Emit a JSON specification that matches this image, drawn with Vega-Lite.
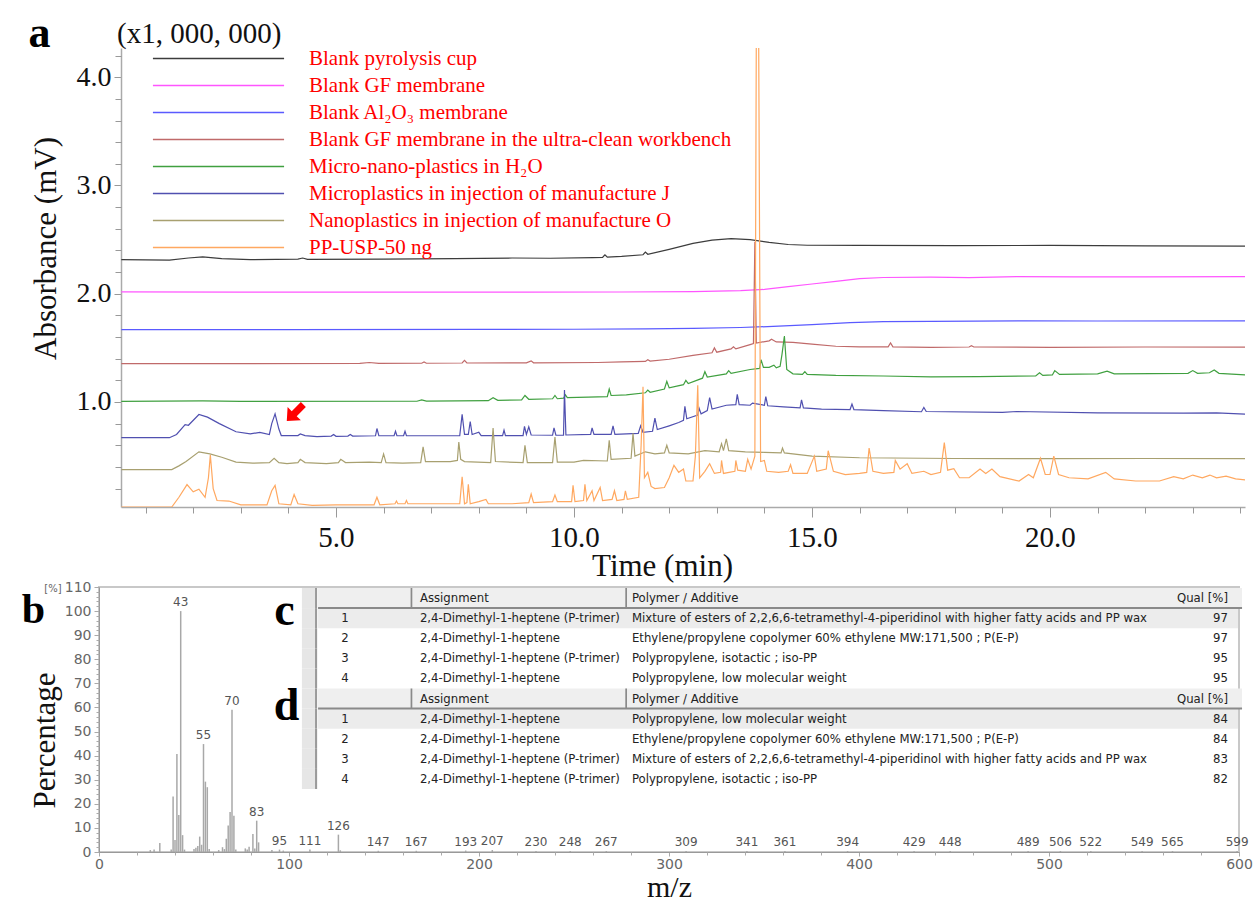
{
"$schema": "https://vega.github.io/schema/vega-lite/v6.json",
"padding": {"left": 20, "top": 12, "right": 5, "bottom": 5},
"background": "white",
"bounds": "flush",
"spacing": 80,
"config": {"view": {"stroke": null}, "font": "Liberation Serif"},
"datasets": {
"series": [
{"id": 1, "name": "Blank pyrolysis cup"},
{"id": 2, "name": "Blank GF membrane"},
{"id": 3, "name": "Blank Al₂O₃ membrane"},
{"id": 4, "name": "Blank GF membrane in the ultra-clean workbench"},
{"id": 5, "name": "Micro-nano-plastics in H₂O"},
{"id": 6, "name": "Microplastics in injection of manufacture J"},
{"id": 7, "name": "Nanoplastics in injection of manufacture O"},
{"id": 8, "name": "PP-USP-50 ng"}
],
"traces": [
{"id":1,"t":0.49,"v":2.315},{"id":1,"t":1.5,"v":2.31},{"id":1,"t":1.9,"v":2.33},{"id":1,"t":2.2,"v":2.34},{"id":1,"t":2.6,"v":2.325},{"id":1,"t":3.2,"v":2.315},{"id":1,"t":4.2,"v":2.32},{"id":1,"t":4.3,"v":2.33},{"id":1,"t":4.4,"v":2.318},{"id":1,"t":6,"v":2.32},{"id":1,"t":7.5,"v":2.325},{"id":1,"t":8.7,"v":2.33},{"id":1,"t":9.5,"v":2.328},{"id":1,"t":10.4,"v":2.333},{"id":1,"t":10.6,"v":2.335},{"id":1,"t":10.65,"v":2.36},{"id":1,"t":10.7,"v":2.338},{"id":1,"t":11.0,"v":2.345},{"id":1,"t":11.45,"v":2.36},{"id":1,"t":11.5,"v":2.385},{"id":1,"t":11.55,"v":2.365},{"id":1,"t":12.0,"v":2.41},{"id":1,"t":12.5,"v":2.465},{"id":1,"t":12.9,"v":2.495},{"id":1,"t":13.3,"v":2.51},{"id":1,"t":13.7,"v":2.5},{"id":1,"t":14.1,"v":2.475},{"id":1,"t":14.5,"v":2.455},{"id":1,"t":14.9,"v":2.448},{"id":1,"t":16,"v":2.447},{"id":1,"t":18,"v":2.445},{"id":1,"t":20,"v":2.446},{"id":1,"t":22,"v":2.443},{"id":1,"t":24.1,"v":2.44},
{"id":2,"t":0.49,"v":2.017},{"id":2,"t":3,"v":2.015},{"id":2,"t":6,"v":2.014},{"id":2,"t":9,"v":2.015},{"id":2,"t":11,"v":2.016},{"id":2,"t":12.5,"v":2.02},{"id":2,"t":13.5,"v":2.028},{"id":2,"t":14.0,"v":2.04},{"id":2,"t":14.5,"v":2.065},{"id":2,"t":15.0,"v":2.09},{"id":2,"t":15.5,"v":2.115},{"id":2,"t":16.0,"v":2.14},{"id":2,"t":16.5,"v":2.15},{"id":2,"t":17.5,"v":2.153},{"id":2,"t":18.3,"v":2.148},{"id":2,"t":19.3,"v":2.158},{"id":2,"t":20.5,"v":2.156},{"id":2,"t":22,"v":2.155},{"id":2,"t":24.1,"v":2.158},
{"id":3,"t":0.49,"v":1.668},{"id":3,"t":4,"v":1.668},{"id":3,"t":8,"v":1.67},{"id":3,"t":10,"v":1.672},{"id":3,"t":11.5,"v":1.675},{"id":3,"t":12.5,"v":1.68},{"id":3,"t":13.5,"v":1.688},{"id":3,"t":14.3,"v":1.7},{"id":3,"t":15.0,"v":1.715},{"id":3,"t":15.8,"v":1.733},{"id":3,"t":16.5,"v":1.742},{"id":3,"t":17.5,"v":1.745},{"id":3,"t":19.5,"v":1.75},{"id":3,"t":21,"v":1.748},{"id":3,"t":24.1,"v":1.75},
{"id":4,"t":0.49,"v":1.354},{"id":4,"t":5.5,"v":1.356},{"id":4,"t":5.7,"v":1.365},{"id":4,"t":5.9,"v":1.356},{"id":4,"t":6.8,"v":1.358},{"id":4,"t":6.85,"v":1.37},{"id":4,"t":6.9,"v":1.358},{"id":4,"t":7.65,"v":1.36},{"id":4,"t":7.7,"v":1.385},{"id":4,"t":7.75,"v":1.36},{"id":4,"t":9.0,"v":1.362},{"id":4,"t":9.1,"v":1.38},{"id":4,"t":9.15,"v":1.362},{"id":4,"t":10.5,"v":1.365},{"id":4,"t":11.0,"v":1.37},{"id":4,"t":11.5,"v":1.375},{"id":4,"t":11.55,"v":1.39},{"id":4,"t":11.6,"v":1.378},{"id":4,"t":12.0,"v":1.395},{"id":4,"t":12.5,"v":1.43},{"id":4,"t":12.9,"v":1.455},{"id":4,"t":12.95,"v":1.5},{"id":4,"t":13.0,"v":1.46},{"id":4,"t":13.3,"v":1.49},{"id":4,"t":13.35,"v":1.51},{"id":4,"t":13.4,"v":1.49},{"id":4,"t":13.7,"v":1.53},{"id":4,"t":13.77,"v":1.54},{"id":4,"t":13.8,"v":2.48},{"id":4,"t":13.83,"v":1.545},{"id":4,"t":14.1,"v":1.565},{"id":4,"t":14.15,"v":1.58},{"id":4,"t":14.25,"v":1.555},{"id":4,"t":14.6,"v":1.55},{"id":4,"t":15.0,"v":1.535},{"id":4,"t":15.5,"v":1.515},{"id":4,"t":16.0,"v":1.51},{"id":4,"t":16.6,"v":1.51},{"id":4,"t":16.65,"v":1.545},{"id":4,"t":16.7,"v":1.51},{"id":4,"t":17.5,"v":1.505},{"id":4,"t":18.3,"v":1.508},{"id":4,"t":18.35,"v":1.52},{"id":4,"t":18.4,"v":1.508},{"id":4,"t":20,"v":1.505},{"id":4,"t":22,"v":1.508},{"id":4,"t":24.1,"v":1.507},
{"id":5,"t":0.49,"v":1.005},{"id":5,"t":2.2,"v":1.01},{"id":5,"t":3,"v":1.005},{"id":5,"t":6.7,"v":1.007},{"id":5,"t":6.8,"v":1.02},{"id":5,"t":6.9,"v":1.008},{"id":5,"t":8.2,"v":1.012},{"id":5,"t":8.3,"v":1.04},{"id":5,"t":8.4,"v":1.015},{"id":5,"t":8.9,"v":1.02},{"id":5,"t":8.97,"v":1.06},{"id":5,"t":9.05,"v":1.025},{"id":5,"t":9.55,"v":1.03},{"id":5,"t":9.6,"v":1.06},{"id":5,"t":9.65,"v":1.03},{"id":5,"t":9.78,"v":1.035},{"id":5,"t":9.82,"v":1.065},{"id":5,"t":9.86,"v":1.04},{"id":5,"t":10.3,"v":1.045},{"id":5,"t":10.7,"v":1.05},{"id":5,"t":10.74,"v":1.12},{"id":5,"t":10.78,"v":1.06},{"id":5,"t":11.1,"v":1.065},{"id":5,"t":11.5,"v":1.085},{"id":5,"t":11.55,"v":1.11},{"id":5,"t":11.6,"v":1.09},{"id":5,"t":11.9,"v":1.12},{"id":5,"t":11.95,"v":1.19},{"id":5,"t":12.0,"v":1.13},{"id":5,"t":12.3,"v":1.16},{"id":5,"t":12.35,"v":1.2},{"id":5,"t":12.4,"v":1.17},{"id":5,"t":12.7,"v":1.22},{"id":5,"t":12.75,"v":1.28},{"id":5,"t":12.8,"v":1.23},{"id":5,"t":13.2,"v":1.26},{"id":5,"t":13.25,"v":1.29},{"id":5,"t":13.3,"v":1.265},{"id":5,"t":13.7,"v":1.3},{"id":5,"t":13.9,"v":1.31},{"id":5,"t":13.93,"v":1.39},{"id":5,"t":13.98,"v":1.32},{"id":5,"t":14.1,"v":1.32},{"id":5,"t":14.2,"v":1.34},{"id":5,"t":14.25,"v":1.315},{"id":5,"t":14.33,"v":1.33},{"id":5,"t":14.37,"v":1.44},{"id":5,"t":14.42,"v":1.61},{"id":5,"t":14.47,"v":1.3},{"id":5,"t":14.6,"v":1.26},{"id":5,"t":14.8,"v":1.255},{"id":5,"t":14.85,"v":1.28},{"id":5,"t":14.9,"v":1.255},{"id":5,"t":15.5,"v":1.245},{"id":5,"t":16.5,"v":1.24},{"id":5,"t":17.5,"v":1.232},{"id":5,"t":18.5,"v":1.235},{"id":5,"t":19.7,"v":1.24},{"id":5,"t":19.78,"v":1.27},{"id":5,"t":19.85,"v":1.245},{"id":5,"t":20.05,"v":1.25},{"id":5,"t":20.1,"v":1.29},{"id":5,"t":20.2,"v":1.255},{"id":5,"t":21.0,"v":1.26},{"id":5,"t":21.2,"v":1.285},{"id":5,"t":21.35,"v":1.26},{"id":5,"t":22.9,"v":1.265},{"id":5,"t":23.0,"v":1.29},{"id":5,"t":23.1,"v":1.265},{"id":5,"t":23.35,"v":1.27},{"id":5,"t":23.45,"v":1.295},{"id":5,"t":23.55,"v":1.265},{"id":5,"t":24.1,"v":1.25},
{"id":6,"t":0.49,"v":0.671},{"id":6,"t":1.5,"v":0.67},{"id":6,"t":1.65,"v":0.7},{"id":6,"t":1.83,"v":0.79},{"id":6,"t":1.9,"v":0.785},{"id":6,"t":2.12,"v":0.884},{"id":6,"t":2.3,"v":0.86},{"id":6,"t":2.55,"v":0.8},{"id":6,"t":2.9,"v":0.725},{"id":6,"t":3.2,"v":0.705},{"id":6,"t":3.4,"v":0.72},{"id":6,"t":3.6,"v":0.7},{"id":6,"t":3.65,"v":0.8},{"id":6,"t":3.72,"v":0.89},{"id":6,"t":3.8,"v":0.75},{"id":6,"t":3.85,"v":0.69},{"id":6,"t":4.2,"v":0.69},{"id":6,"t":4.25,"v":0.705},{"id":6,"t":4.35,"v":0.69},{"id":6,"t":4.6,"v":0.68},{"id":6,"t":4.9,"v":0.685},{"id":6,"t":4.95,"v":0.7},{"id":6,"t":5.0,"v":0.683},{"id":6,"t":5.25,"v":0.685},{"id":6,"t":5.3,"v":0.7},{"id":6,"t":5.35,"v":0.685},{"id":6,"t":5.83,"v":0.688},{"id":6,"t":5.86,"v":0.755},{"id":6,"t":5.9,"v":0.688},{"id":6,"t":6.22,"v":0.688},{"id":6,"t":6.25,"v":0.73},{"id":6,"t":6.28,"v":0.688},{"id":6,"t":6.42,"v":0.688},{"id":6,"t":6.45,"v":0.73},{"id":6,"t":6.48,"v":0.688},{"id":6,"t":7.6,"v":0.69},{"id":6,"t":7.65,"v":0.886},{"id":6,"t":7.7,"v":0.7},{"id":6,"t":7.78,"v":0.7},{"id":6,"t":7.82,"v":0.82},{"id":6,"t":7.86,"v":0.7},{"id":6,"t":8.0,"v":0.72},{"id":6,"t":8.05,"v":0.69},{"id":6,"t":8.5,"v":0.69},{"id":6,"t":8.53,"v":0.74},{"id":6,"t":8.56,"v":0.69},{"id":6,"t":8.93,"v":0.69},{"id":6,"t":8.96,"v":0.775},{"id":6,"t":9.0,"v":0.7},{"id":6,"t":9.05,"v":0.77},{"id":6,"t":9.1,"v":0.695},{"id":6,"t":9.55,"v":0.693},{"id":6,"t":9.58,"v":0.76},{"id":6,"t":9.62,"v":0.693},{"id":6,"t":9.78,"v":0.693},{"id":6,"t":9.8,"v":1.11},{"id":6,"t":9.83,"v":0.695},{"id":6,"t":10.35,"v":0.7},{"id":6,"t":10.38,"v":0.76},{"id":6,"t":10.42,"v":0.7},{"id":6,"t":10.78,"v":0.7},{"id":6,"t":10.82,"v":0.78},{"id":6,"t":10.86,"v":0.7},{"id":6,"t":11.35,"v":0.71},{"id":6,"t":11.4,"v":0.78},{"id":6,"t":11.45,"v":0.72},{"id":6,"t":11.65,"v":0.73},{"id":6,"t":11.7,"v":0.85},{"id":6,"t":11.75,"v":0.745},{"id":6,"t":12.0,"v":0.78},{"id":6,"t":12.2,"v":0.81},{"id":6,"t":12.3,"v":0.83},{"id":6,"t":12.33,"v":0.96},{"id":6,"t":12.37,"v":0.845},{"id":6,"t":12.6,"v":0.88},{"id":6,"t":12.63,"v":0.94},{"id":6,"t":12.67,"v":0.89},{"id":6,"t":12.8,"v":0.92},{"id":6,"t":12.85,"v":1.04},{"id":6,"t":12.9,"v":0.935},{"id":6,"t":13.2,"v":0.97},{"id":6,"t":13.4,"v":0.975},{"id":6,"t":13.43,"v":1.07},{"id":6,"t":13.47,"v":0.975},{"id":6,"t":13.7,"v":0.97},{"id":6,"t":13.75,"v":0.99},{"id":6,"t":14.0,"v":0.97},{"id":6,"t":14.03,"v":1.05},{"id":6,"t":14.07,"v":0.965},{"id":6,"t":14.4,"v":0.955},{"id":6,"t":14.75,"v":0.945},{"id":6,"t":14.78,"v":1.02},{"id":6,"t":14.82,"v":0.945},{"id":6,"t":15.2,"v":0.935},{"id":6,"t":15.8,"v":0.93},{"id":6,"t":15.84,"v":0.98},{"id":6,"t":15.88,"v":0.93},{"id":6,"t":16.5,"v":0.92},{"id":6,"t":17.3,"v":0.91},{"id":6,"t":17.35,"v":0.95},{"id":6,"t":17.4,"v":0.912},{"id":6,"t":19,"v":0.905},{"id":6,"t":19.3,"v":0.912},{"id":6,"t":21,"v":0.9},{"id":6,"t":22.8,"v":0.897},{"id":6,"t":23.5,"v":0.9},{"id":6,"t":24.1,"v":0.888},
{"id":7,"t":0.49,"v":0.376},{"id":7,"t":1.55,"v":0.376},{"id":7,"t":1.7,"v":0.41},{"id":7,"t":1.85,"v":0.45},{"id":7,"t":2.12,"v":0.54},{"id":7,"t":2.35,"v":0.52},{"id":7,"t":2.6,"v":0.49},{"id":7,"t":2.9,"v":0.445},{"id":7,"t":3.25,"v":0.435},{"id":7,"t":3.6,"v":0.44},{"id":7,"t":3.7,"v":0.48},{"id":7,"t":3.8,"v":0.44},{"id":7,"t":3.97,"v":0.43},{"id":7,"t":4.2,"v":0.44},{"id":7,"t":4.25,"v":0.47},{"id":7,"t":4.35,"v":0.44},{"id":7,"t":4.8,"v":0.43},{"id":7,"t":5.05,"v":0.44},{"id":7,"t":5.1,"v":0.47},{"id":7,"t":5.2,"v":0.44},{"id":7,"t":5.7,"v":0.445},{"id":7,"t":5.95,"v":0.44},{"id":7,"t":6.0,"v":0.52},{"id":7,"t":6.05,"v":0.44},{"id":7,"t":6.4,"v":0.435},{"id":7,"t":6.78,"v":0.44},{"id":7,"t":6.83,"v":0.585},{"id":7,"t":6.88,"v":0.45},{"id":7,"t":7.4,"v":0.45},{"id":7,"t":7.55,"v":0.46},{"id":7,"t":7.58,"v":0.63},{"id":7,"t":7.62,"v":0.47},{"id":7,"t":7.7,"v":0.45},{"id":7,"t":8.25,"v":0.44},{"id":7,"t":8.3,"v":0.76},{"id":7,"t":8.35,"v":0.45},{"id":7,"t":8.93,"v":0.44},{"id":7,"t":8.97,"v":0.6},{"id":7,"t":9.02,"v":0.44},{"id":7,"t":9.55,"v":0.44},{"id":7,"t":9.6,"v":0.677},{"id":7,"t":9.65,"v":0.445},{"id":7,"t":10.0,"v":0.445},{"id":7,"t":10.2,"v":0.46},{"id":7,"t":10.7,"v":0.455},{"id":7,"t":10.74,"v":0.646},{"id":7,"t":10.78,"v":0.47},{"id":7,"t":11.2,"v":0.48},{"id":7,"t":11.24,"v":0.71},{"id":7,"t":11.28,"v":0.5},{"id":7,"t":11.5,"v":0.54},{"id":7,"t":11.7,"v":0.52},{"id":7,"t":11.9,"v":0.53},{"id":7,"t":11.95,"v":0.6},{"id":7,"t":12.0,"v":0.53},{"id":7,"t":12.4,"v":0.52},{"id":7,"t":12.75,"v":0.55},{"id":7,"t":13.05,"v":0.54},{"id":7,"t":13.1,"v":0.615},{"id":7,"t":13.14,"v":0.55},{"id":7,"t":13.2,"v":0.66},{"id":7,"t":13.25,"v":0.55},{"id":7,"t":13.6,"v":0.54},{"id":7,"t":14.0,"v":0.535},{"id":7,"t":14.35,"v":0.53},{"id":7,"t":14.38,"v":0.575},{"id":7,"t":14.42,"v":0.53},{"id":7,"t":15.0,"v":0.5},{"id":7,"t":16,"v":0.485},{"id":7,"t":18,"v":0.478},{"id":7,"t":20,"v":0.477},{"id":7,"t":22,"v":0.478},{"id":7,"t":24.1,"v":0.477},
{"id":8,"t":0.49,"v":0.03},{"id":8,"t":1.55,"v":0.03},{"id":8,"t":1.7,"v":0.12},{"id":8,"t":1.87,"v":0.237},{"id":8,"t":2.0,"v":0.17},{"id":8,"t":2.12,"v":0.194},{"id":8,"t":2.25,"v":0.12},{"id":8,"t":2.32,"v":0.3},{"id":8,"t":2.36,"v":0.51},{"id":8,"t":2.42,"v":0.2},{"id":8,"t":2.5,"v":0.09},{"id":8,"t":2.75,"v":0.085},{"id":8,"t":3.0,"v":0.05},{"id":8,"t":3.55,"v":0.05},{"id":8,"t":3.65,"v":0.18},{"id":8,"t":3.72,"v":0.23},{"id":8,"t":3.8,"v":0.06},{"id":8,"t":4.05,"v":0.05},{"id":8,"t":4.12,"v":0.145},{"id":8,"t":4.2,"v":0.06},{"id":8,"t":4.5,"v":0.045},{"id":8,"t":5.0,"v":0.05},{"id":8,"t":5.8,"v":0.05},{"id":8,"t":5.86,"v":0.12},{"id":8,"t":5.92,"v":0.05},{"id":8,"t":6.24,"v":0.06},{"id":8,"t":6.27,"v":0.085},{"id":8,"t":6.3,"v":0.06},{"id":8,"t":6.45,"v":0.06},{"id":8,"t":6.48,"v":0.09},{"id":8,"t":6.51,"v":0.06},{"id":8,"t":7.6,"v":0.06},{"id":8,"t":7.65,"v":0.31},{"id":8,"t":7.7,"v":0.06},{"id":8,"t":7.75,"v":0.07},{"id":8,"t":7.78,"v":0.24},{"id":8,"t":7.82,"v":0.06},{"id":8,"t":8.0,"v":0.08},{"id":8,"t":8.15,"v":0.1},{"id":8,"t":8.2,"v":0.06},{"id":8,"t":8.7,"v":0.06},{"id":8,"t":9.05,"v":0.07},{"id":8,"t":9.1,"v":0.15},{"id":8,"t":9.15,"v":0.07},{"id":8,"t":9.55,"v":0.08},{"id":8,"t":9.6,"v":0.14},{"id":8,"t":9.65,"v":0.08},{"id":8,"t":9.95,"v":0.08},{"id":8,"t":9.98,"v":0.23},{"id":8,"t":10.02,"v":0.08},{"id":8,"t":10.2,"v":0.09},{"id":8,"t":10.23,"v":0.24},{"id":8,"t":10.27,"v":0.09},{"id":8,"t":10.38,"v":0.18},{"id":8,"t":10.42,"v":0.09},{"id":8,"t":10.55,"v":0.21},{"id":8,"t":10.6,"v":0.09},{"id":8,"t":10.8,"v":0.1},{"id":8,"t":10.85,"v":0.18},{"id":8,"t":10.9,"v":0.09},{"id":8,"t":11.05,"v":0.1},{"id":8,"t":11.08,"v":0.18},{"id":8,"t":11.12,"v":0.1},{"id":8,"t":11.36,"v":0.12},{"id":8,"t":11.41,"v":0.6},{"id":8,"t":11.45,"v":1.14},{"id":8,"t":11.48,"v":0.3},{"id":8,"t":11.55,"v":0.35},{"id":8,"t":11.62,"v":0.22},{"id":8,"t":11.7,"v":0.2},{"id":8,"t":11.9,"v":0.21},{"id":8,"t":12.0,"v":0.3},{"id":8,"t":12.1,"v":0.415},{"id":8,"t":12.2,"v":0.35},{"id":8,"t":12.3,"v":0.38},{"id":8,"t":12.35,"v":0.27},{"id":8,"t":12.5,"v":0.27},{"id":8,"t":12.55,"v":0.5},{"id":8,"t":12.6,"v":1.155},{"id":8,"t":12.64,"v":0.3},{"id":8,"t":12.75,"v":0.36},{"id":8,"t":12.85,"v":0.43},{"id":8,"t":12.95,"v":0.34},{"id":8,"t":13.08,"v":0.35},{"id":8,"t":13.1,"v":0.46},{"id":8,"t":13.14,"v":0.34},{"id":8,"t":13.38,"v":0.36},{"id":8,"t":13.4,"v":0.46},{"id":8,"t":13.44,"v":0.37},{"id":8,"t":13.6,"v":0.36},{"id":8,"t":13.65,"v":0.47},{"id":8,"t":13.72,"v":0.38},{"id":8,"t":13.8,"v":0.5},{"id":8,"t":13.83,"v":4.35},{"id":8,"t":13.88,"v":4.35},{"id":8,"t":13.92,"v":0.45},{"id":8,"t":14.0,"v":0.46},{"id":8,"t":14.05,"v":0.36},{"id":8,"t":14.3,"v":0.35},{"id":8,"t":14.5,"v":0.36},{"id":8,"t":14.55,"v":0.42},{"id":8,"t":14.6,"v":0.34},{"id":8,"t":14.9,"v":0.34},{"id":8,"t":15.05,"v":0.5},{"id":8,"t":15.1,"v":0.36},{"id":8,"t":15.3,"v":0.38},{"id":8,"t":15.34,"v":0.55},{"id":8,"t":15.45,"v":0.36},{"id":8,"t":15.7,"v":0.33},{"id":8,"t":16.0,"v":0.34},{"id":8,"t":16.15,"v":0.35},{"id":8,"t":16.2,"v":0.575},{"id":8,"t":16.28,"v":0.36},{"id":8,"t":16.5,"v":0.34},{"id":8,"t":16.72,"v":0.35},{"id":8,"t":16.75,"v":0.46},{"id":8,"t":16.85,"v":0.38},{"id":8,"t":17.0,"v":0.43},{"id":8,"t":17.1,"v":0.34},{"id":8,"t":17.35,"v":0.36},{"id":8,"t":17.5,"v":0.33},{"id":8,"t":17.7,"v":0.35},{"id":8,"t":17.78,"v":0.625},{"id":8,"t":17.85,"v":0.37},{"id":8,"t":17.98,"v":0.385},{"id":8,"t":18.1,"v":0.3},{"id":8,"t":18.3,"v":0.3},{"id":8,"t":18.53,"v":0.38},{"id":8,"t":18.65,"v":0.34},{"id":8,"t":18.78,"v":0.38},{"id":8,"t":18.95,"v":0.31},{"id":8,"t":19.35,"v":0.27},{"id":8,"t":19.55,"v":0.33},{"id":8,"t":19.65,"v":0.3},{"id":8,"t":19.8,"v":0.48},{"id":8,"t":19.9,"v":0.33},{"id":8,"t":20.0,"v":0.33},{"id":8,"t":20.08,"v":0.5},{"id":8,"t":20.18,"v":0.33},{"id":8,"t":20.4,"v":0.3},{"id":8,"t":20.8,"v":0.29},{"id":8,"t":21.17,"v":0.35},{"id":8,"t":21.35,"v":0.29},{"id":8,"t":21.8,"v":0.27},{"id":8,"t":22.3,"v":0.27},{"id":8,"t":22.6,"v":0.31},{"id":8,"t":22.8,"v":0.29},{"id":8,"t":23.0,"v":0.325},{"id":8,"t":23.2,"v":0.3},{"id":8,"t":23.36,"v":0.325},{"id":8,"t":23.5,"v":0.3},{"id":8,"t":23.7,"v":0.315},{"id":8,"t":23.9,"v":0.29},{"id":8,"t":24.1,"v":0.28}
],
"spectrum": [
{"mz":27,"pct":0.8},{"mz":29,"pct":1},{"mz":32,"pct":3.7},{"mz":38,"pct":1},{"mz":39,"pct":23},{"mz":40,"pct":5},{"mz":41,"pct":40.7},{"mz":42,"pct":15.4},{"mz":43,"pct":100,"lab":"43"},{"mz":44,"pct":7},{"mz":45,"pct":1},{"mz":50,"pct":1.2},{"mz":51,"pct":1.8},{"mz":52,"pct":2.5},{"mz":53,"pct":6.4},{"mz":54,"pct":3},{"mz":55,"pct":44.8,"lab":"55"},{"mz":56,"pct":29.2},{"mz":57,"pct":26.9},{"mz":58,"pct":1.2},{"mz":63,"pct":0.8},{"mz":65,"pct":2},{"mz":66,"pct":1.2},{"mz":67,"pct":5.5},{"mz":68,"pct":11},{"mz":69,"pct":16.6},{"mz":70,"pct":59,"lab":"70"},{"mz":71,"pct":15},{"mz":72,"pct":1},{"mz":77,"pct":1.5},{"mz":78,"pct":1},{"mz":79,"pct":2.2},{"mz":81,"pct":7.5},{"mz":82,"pct":1.5},{"mz":83,"pct":13,"lab":"83"},{"mz":84,"pct":4},{"mz":91,"pct":0.8},{"mz":95,"pct":1,"lab":"95"},{"mz":97,"pct":0.6},{"mz":111,"pct":1,"lab":"111"},{"mz":126,"pct":7.2,"lab":"126"},{"mz":127,"pct":0.7},{"mz":147,"pct":0.5,"lab":"147"},{"mz":167,"pct":0.5,"lab":"167"},{"mz":193,"pct":0.6,"lab":"193"},{"mz":207,"pct":0.8,"lab":"207"},{"mz":230,"pct":0.4,"lab":"230"},{"mz":248,"pct":0.4,"lab":"248"},{"mz":267,"pct":0.4,"lab":"267"},{"mz":309,"pct":0.4,"lab":"309"},{"mz":341,"pct":0.4,"lab":"341"},{"mz":361,"pct":0.4,"lab":"361"},{"mz":394,"pct":0.4,"lab":"394"},{"mz":429,"pct":0.4,"lab":"429"},{"mz":448,"pct":0.4,"lab":"448"},{"mz":489,"pct":0.4,"lab":"489"},{"mz":506,"pct":0.4,"lab":"506"},{"mz":522,"pct":0.4,"lab":"522"},{"mz":549,"pct":0.4,"lab":"549"},{"mz":565,"pct":0.4,"lab":"565"},{"mz":599,"pct":0.4,"lab":"599"}
],
"table": [
{"row":"c0","kind":"header","idx":"","assign":"Assignment","polymer":"Polymer / Additive","qual":"Qual [%]","hl":false},
{"row":"c1","kind":"row","idx":"1","assign":"2,4-Dimethyl-1-heptene (P-trimer)","polymer":"Mixture of esters of 2,2,6,6-tetramethyl-4-piperidinol with higher fatty acids and PP wax","qual":"97","hl":true},
{"row":"c2","kind":"row","idx":"2","assign":"2,4-Dimethyl-1-heptene","polymer":"Ethylene/propylene copolymer 60% ethylene MW:171,500 ; P(E-P)","qual":"97","hl":false},
{"row":"c3","kind":"row","idx":"3","assign":"2,4-Dimethyl-1-heptene (P-trimer)","polymer":"Polypropylene, isotactic ; iso-PP","qual":"95","hl":false},
{"row":"c4","kind":"row","idx":"4","assign":"2,4-Dimethyl-1-heptene","polymer":"Polypropylene, low molecular weight","qual":"95","hl":false},
{"row":"d0","kind":"header","idx":"","assign":"Assignment","polymer":"Polymer / Additive","qual":"Qual [%]","hl":false},
{"row":"d1","kind":"row","idx":"1","assign":"2,4-Dimethyl-1-heptene","polymer":"Polypropylene, low molecular weight","qual":"84","hl":true},
{"row":"d2","kind":"row","idx":"2","assign":"2,4-Dimethyl-1-heptene","polymer":"Ethylene/propylene copolymer 60% ethylene MW:171,500 ; P(E-P)","qual":"84","hl":false},
{"row":"d3","kind":"row","idx":"3","assign":"2,4-Dimethyl-1-heptene (P-trimer)","polymer":"Mixture of esters of 2,2,6,6-tetramethyl-4-piperidinol with higher fatty acids and PP wax","qual":"83","hl":false},
{"row":"d4","kind":"row","idx":"4","assign":"2,4-Dimethyl-1-heptene (P-trimer)","polymer":"Polypropylene, isotactic ; iso-PP","qual":"82","hl":false}
]
},
"vconcat": [
{
"width": 1146, "height": 459,
"view": {"stroke": null},
"resolve": {"axis": {"x": "independent", "y": "independent"}},
"layer": [
{
"data": {"name": "traces"},
"transform": [{"lookup": "id", "from": {"data": {"name": "series"}, "key": "id", "fields": ["name"]}}],
"mark": {"type": "line", "strokeWidth": 1.2, "clip": true},
"encoding": {
"x": {"field": "t", "type": "quantitative", "scale": {"domain": [0.021, 24.097], "nice": false, "zero": false},
"axis": {"orient": "bottom", "values": [5, 10, 15, 20], "format": ".1f", "labelFont": "Liberation Serif", "labelFontSize": 29, "labelColor": "#111", "labelPadding": 6, "labelFlush": false, "tickColor": "#999", "tickSize": 10, "domainColor": "#aaa", "domainWidth": 1.5, "domainDash": [0, 22, 1124, 60], "grid": false, "title": "Time (min)", "titleFont": "Liberation Serif", "titleFontSize": 31, "titleFontWeight": "normal", "titleColor": "#111", "titleX": 563, "titleY": 68, "titleBaseline": "alphabetic"}},
"y": {"field": "v", "type": "quantitative", "scale": {"domain": [0.03, 4.27], "nice": false, "zero": false},
"axis": {"orient": "left", "values": [1, 2, 3, 4], "format": ".1f", "offset": -22, "labelFont": "Liberation Serif", "labelFontSize": 28, "labelColor": "#111", "labelPadding": 3, "tickColor": "#999", "tickSize": 7, "domainColor": "#aaa", "domainWidth": 1.5, "grid": false, "title": "Absorbance (mV)", "titleFont": "Liberation Serif", "titleFontSize": 31, "titleFontWeight": "normal", "titleColor": "#111", "titleX": -66, "titleY": 200, "titleBaseline": "alphabetic"}},
"color": {"field": "name", "type": "nominal",
"scale": {"domain": ["Blank pyrolysis cup", "Blank GF membrane", "Blank Al₂O₃ membrane", "Blank GF membrane in the ultra-clean workbench", "Micro-nano-plastics in H₂O", "Microplastics in injection of manufacture J", "Nanoplastics in injection of manufacture O", "PP-USP-50 ng"], "range": ["#3c3c3c", "#ff55ff", "#5a5aff", "#c06a6a", "#40a040", "#5050b0", "#a8a070", "#ffa860"]},
"legend": {"orient": "none", "legendX": 109, "legendY": 0, "title": null, "symbolType": "M-10,0H10", "symbolSize": 172, "symbolStrokeWidth": 1.3, "labelFont": "Liberation Serif", "labelFontSize": 21, "labelColor": "#ff0000", "labelOffset": 80, "rowPadding": 5, "padding": 0, "labelLimit": 600}}
}
},
{
"data": {"values": [{"note": "arrow"}]},
"mark": {"type": "point", "shape": "M0,-1L0.8,-0.1L0.3,-0.1L0.3,1L-0.3,1L-0.3,-0.1L-0.8,-0.1Z", "filled": true, "color": "#ff0000", "opacity": 1, "angle": 225, "size": 550},
"encoding": {
"x": {"datum": 4.14, "type": "quantitative", "axis": {"orient": "bottom", "values": [1,2,3,4,6,7,8,9,11,12,13,14,16,17,18,19,21,22,23,24], "labels": false, "title": null, "domain": false, "grid": false, "tickColor": "#999", "tickSize": 6}},
"y": {"datum": 0.9, "type": "quantitative", "axis": {"orient": "left", "offset": -22, "values": [0.2,0.4,0.6,0.8,1.2,1.4,1.6,1.8,2.2,2.4,2.6,2.8,3.2,3.4,3.6,3.8,4.2], "labels": false, "title": null, "domain": false, "grid": false, "tickColor": "#999", "tickSize": 6}}
}
},
{
"data": {"values": [{"label": "a"}]},
"mark": {"type": "text", "font": "Liberation Serif", "fontSize": 44, "fontWeight": "bold", "align": "center", "baseline": "alphabetic", "color": "#000"},
"encoding": {"x": {"datum": -1.229, "type": "quantitative", "axis": null}, "y": {"datum": 4.275, "type": "quantitative", "axis": null}, "text": {"field": "label"}}
},
{
"data": {"values": [{"label": "(x1, 000, 000)"}]},
"mark": {"type": "text", "font": "Liberation Serif", "fontSize": 29, "align": "left", "baseline": "alphabetic", "color": "#111"},
"encoding": {"x": {"datum": 0.399, "type": "quantitative", "axis": null}, "y": {"datum": 4.312, "type": "quantitative", "axis": null}, "text": {"field": "label"}}
}
]
},
{
"width": 1140, "height": 265,
"view": {"stroke": "#c8c8c8", "strokeWidth": 2},
"resolve": {"scale": {"y": "independent"}, "axis": {"x": "independent", "y": "independent"}},
"layer": [
{
"resolve": {"axis": {"x": "independent", "y": "independent"}},
"layer": [
{
"data": {"name": "spectrum"},
"mark": {"type": "rule", "color": "#a8a8a8", "strokeWidth": 1.5},
"encoding": {
"x": {"field": "mz", "type": "quantitative", "scale": {"domain": [0, 600], "nice": false, "zero": true},
"axis": {"orient": "bottom", "values": [0,100,200,300,400,500,600], "labelFont": "DejaVu Sans", "labelFontSize": 14, "labelColor": "#666", "labelPadding": 1, "labelFlush": false, "tickColor": "#aaa", "tickSize": 4, "domainColor": "#999", "grid": false, "title": "m/z", "titleFont": "Liberation Serif", "titleFontSize": 30, "titleFontWeight": "normal", "titleColor": "#111", "titleY": 44, "titleBaseline": "alphabetic"}},
"y": {"field": "pct", "type": "quantitative", "scale": {"domain": [0, 110], "nice": false},
"axis": {"orient": "left", "values": [0,10,20,30,40,50,60,70,80,90,100,110], "labelFont": "DejaVu Sans", "labelFontSize": 14, "labelColor": "#666", "labelPadding": 3, "tickColor": "#aaa", "tickSize": 5, "domainColor": "#999", "grid": false, "title": "Percentage", "titleFont": "Liberation Serif", "titleFontSize": 31, "titleFontWeight": "normal", "titleColor": "#111", "titleX": -45, "titleY": 153, "titleBaseline": "alphabetic"}},
"y2": {"datum": 0}
}
},
{
"data": {"name": "spectrum"},
"transform": [{"filter": "isValid(datum.lab)"}],
"mark": {"type": "text", "font": "DejaVu Sans", "fontSize": 12, "color": "#555", "baseline": "bottom", "dy": -2},
"encoding": {
"x": {"field": "mz", "type": "quantitative", "axis": {"orient": "bottom", "values": [20,40,60,80,120,140,160,180,220,240,260,280,320,340,360,380,420,440,460,480,520,540,560,580], "labels": false, "title": null, "domain": false, "grid": false, "tickColor": "#aaa", "tickSize": 3}},
"y": {"field": "pct", "type": "quantitative", "axis": {"orient": "left", "values": [2,4,6,8,12,14,16,18,22,24,26,28,32,34,36,38,42,44,46,48,52,54,56,58,62,64,66,68,72,74,76,78,82,84,86,88,92,94,96,98,102,104,106,108], "labels": false, "title": null, "domain": false, "grid": false, "tickColor": "#aaa", "tickSize": 3}},
"text": {"field": "lab"}}
},
{
"data": {"values": [{"label": "b"}]},
"mark": {"type": "text", "font": "Liberation Serif", "fontSize": 42, "fontWeight": "bold", "align": "center", "baseline": "alphabetic", "color": "#000"},
"encoding": {"x": {"datum": -34.5, "type": "quantitative", "axis": null}, "y": {"datum": 95.1, "type": "quantitative", "axis": null}, "text": {"field": "label"}}
},
{
"data": {"values": [{"label": "[%]"}]},
"mark": {"type": "text", "font": "DejaVu Sans", "fontSize": 10, "align": "center", "baseline": "alphabetic", "color": "#666"},
"encoding": {"x": {"datum": -24.2, "type": "quantitative", "axis": null}, "y": {"datum": 107.8, "type": "quantitative", "axis": null}, "text": {"field": "label"}}
},
{
"data": {"values": [{"label": "c"}]},
"mark": {"type": "text", "font": "Liberation Serif", "fontSize": 46, "fontWeight": "bold", "align": "center", "baseline": "alphabetic", "color": "#000"},
"encoding": {"x": {"datum": 97.6, "type": "quantitative", "axis": null}, "y": {"datum": 94.2, "type": "quantitative", "axis": null}, "text": {"field": "label"}}
},
{
"data": {"values": [{"label": "d"}]},
"mark": {"type": "text", "font": "Liberation Serif", "fontSize": 46, "fontWeight": "bold", "align": "center", "baseline": "alphabetic", "color": "#000"},
"encoding": {"x": {"datum": 98.7, "type": "quantitative", "axis": null}, "y": {"datum": 54.8, "type": "quantitative", "axis": null}, "text": {"field": "label"}}
}
]
},
{
"data": {"name": "table"},
"layer": [
{
"mark": {"type": "rect", "color": "#e6e6e6"},
"encoding": {"x": {"datum": 106.8, "type": "quantitative", "axis": null}, "x2": {"datum": 113.7},
"y": {"field": "row", "type": "ordinal", "scale": {"type": "band", "domain": ["c0","c1","c2","c3","c4","d0","d1","d2","d3","d4"], "range": [1, 202], "paddingInner": 0, "paddingOuter": 0}, "axis": null}}
},
{
"mark": {"type": "rect", "color": "#9a9a9a"},
"encoding": {"x": {"datum": 113.7, "type": "quantitative", "axis": null}, "x2": {"datum": 114.8},
"y": {"field": "row", "type": "ordinal", "scale": {"type": "band", "domain": ["c0","c1","c2","c3","c4","d0","d1","d2","d3","d4"], "range": [1, 202], "paddingInner": 0, "paddingOuter": 0}, "axis": null}}
},
{
"transform": [{"filter": "datum.kind == 'header'"}],
"mark": {"type": "rect", "color": "#efefef"},
"encoding": {"x": {"datum": 115.3, "type": "quantitative", "axis": null}, "x2": {"datum": 601.6},
"y": {"field": "row", "type": "ordinal", "scale": {"type": "band", "domain": ["c0","c1","c2","c3","c4","d0","d1","d2","d3","d4"], "range": [1, 202], "paddingInner": 0, "paddingOuter": 0}, "axis": null}}
},
{
"transform": [{"filter": "datum.hl"}],
"mark": {"type": "rect", "color": "#ececec"},
"encoding": {"x": {"datum": 115.3, "type": "quantitative", "axis": null}, "x2": {"datum": 599.5},
"y": {"field": "row", "type": "ordinal", "scale": {"type": "band", "domain": ["c0","c1","c2","c3","c4","d0","d1","d2","d3","d4"], "range": [1, 202], "paddingInner": 0, "paddingOuter": 0}, "axis": null}}
},
{
"transform": [{"filter": "datum.kind == 'header'"}],
"mark": {"type": "rect", "color": "#8a8a8a"},
"encoding": {"x": {"datum": 164.0, "type": "quantitative", "axis": null}, "x2": {"datum": 164.9},
"y": {"field": "row", "type": "ordinal", "scale": {"type": "band", "domain": ["c0","c1","c2","c3","c4","d0","d1","d2","d3","d4"], "range": [1, 202], "paddingInner": 0, "paddingOuter": 0}, "axis": null}}
},
{
"transform": [{"filter": "datum.kind == 'header'"}],
"mark": {"type": "rect", "color": "#8a8a8a"},
"encoding": {"x": {"datum": 277.0, "type": "quantitative", "axis": null}, "x2": {"datum": 277.9},
"y": {"field": "row", "type": "ordinal", "scale": {"type": "band", "domain": ["c0","c1","c2","c3","c4","d0","d1","d2","d3","d4"], "range": [1, 202], "paddingInner": 0, "paddingOuter": 0}, "axis": null}}
},
{
"transform": [{"filter": "datum.kind == 'header'"}],
"mark": {"type": "rule", "color": "#8a8a8a", "strokeWidth": 2, "yOffset": 10},
"encoding": {"x": {"datum": 115.3, "type": "quantitative", "axis": null}, "x2": {"datum": 601.6},
"y": {"field": "row", "type": "ordinal", "scale": {"type": "band", "domain": ["c0","c1","c2","c3","c4","d0","d1","d2","d3","d4"], "range": [1, 202], "paddingInner": 0, "paddingOuter": 0}, "axis": null}}
},
{
"mark": {"type": "text", "font": "'Liberation Sans Narrow', 'DejaVu Sans Condensed', sans-serif", "fontSize": 13, "color": "#222", "align": "center", "baseline": "middle"},
"encoding": {"x": {"datum": 129.5, "type": "quantitative", "axis": null},
"y": {"field": "row", "type": "ordinal", "scale": {"type": "band", "domain": ["c0","c1","c2","c3","c4","d0","d1","d2","d3","d4"], "range": [1, 202], "paddingInner": 0, "paddingOuter": 0}, "axis": null},
"text": {"field": "idx"}}
},
{
"mark": {"type": "text", "font": "'Liberation Sans Narrow', 'DejaVu Sans Condensed', sans-serif", "fontSize": 13, "color": "#222", "align": "left", "baseline": "middle"},
"encoding": {"x": {"datum": 168.9, "type": "quantitative", "axis": null},
"y": {"field": "row", "type": "ordinal", "scale": {"type": "band", "domain": ["c0","c1","c2","c3","c4","d0","d1","d2","d3","d4"], "range": [1, 202], "paddingInner": 0, "paddingOuter": 0}, "axis": null},
"text": {"field": "assign"}}
},
{
"mark": {"type": "text", "font": "'Liberation Sans Narrow', 'DejaVu Sans Condensed', sans-serif", "fontSize": 13, "color": "#222", "align": "left", "baseline": "middle"},
"encoding": {"x": {"datum": 280.5, "type": "quantitative", "axis": null},
"y": {"field": "row", "type": "ordinal", "scale": {"type": "band", "domain": ["c0","c1","c2","c3","c4","d0","d1","d2","d3","d4"], "range": [1, 202], "paddingInner": 0, "paddingOuter": 0}, "axis": null},
"text": {"field": "polymer"}}
},
{
"mark": {"type": "text", "font": "'Liberation Sans Narrow', 'DejaVu Sans Condensed', sans-serif", "fontSize": 13, "color": "#222", "align": "right", "baseline": "middle"},
"encoding": {"x": {"datum": 594.2, "type": "quantitative", "axis": null},
"y": {"field": "row", "type": "ordinal", "scale": {"type": "band", "domain": ["c0","c1","c2","c3","c4","d0","d1","d2","d3","d4"], "range": [1, 202], "paddingInner": 0, "paddingOuter": 0}, "axis": null},
"text": {"field": "qual"}}
}
]
}
]
}
]
}
